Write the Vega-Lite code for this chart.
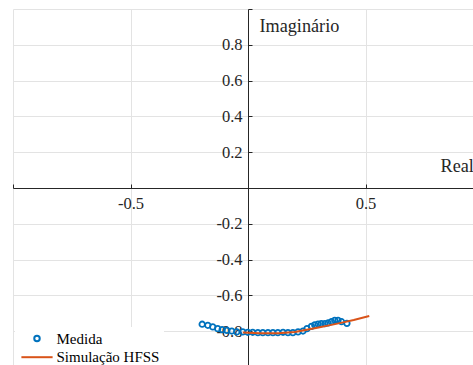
{
  "$schema": "https://vega.github.io/schema/vega-lite/v6.json",
  "width": 470,
  "height": 358,
  "autosize": {"type": "none"},
  "padding": {"left": 13, "top": 9, "right": 0, "bottom": 0},
  "background": "white",
  "config": {"view": {"stroke": null}, "font": "Liberation Serif"},
  "datasets": {
    "s11": [
      {"serie": "Medida", "re": -0.195, "im": -0.761},
      {"serie": "Medida", "re": -0.171, "im": -0.767},
      {"serie": "Medida", "re": -0.150, "im": -0.776},
      {"serie": "Medida", "re": -0.129, "im": -0.786},
      {"serie": "Medida", "re": -0.110, "im": -0.791},
      {"serie": "Medida", "re": -0.090, "im": -0.795},
      {"serie": "Medida", "re": -0.069, "im": -0.799},
      {"serie": "Medida", "re": -0.048, "im": -0.804},
      {"serie": "Medida", "re": -0.022, "im": -0.804},
      {"serie": "Medida", "re": -0.001, "im": -0.806},
      {"serie": "Medida", "re": 0.020, "im": -0.806},
      {"serie": "Medida", "re": 0.042, "im": -0.808},
      {"serie": "Medida", "re": 0.063, "im": -0.808},
      {"serie": "Medida", "re": 0.085, "im": -0.808},
      {"serie": "Medida", "re": 0.106, "im": -0.808},
      {"serie": "Medida", "re": 0.127, "im": -0.808},
      {"serie": "Medida", "re": 0.149, "im": -0.806},
      {"serie": "Medida", "re": 0.170, "im": -0.808},
      {"serie": "Medida", "re": 0.191, "im": -0.808},
      {"serie": "Medida", "re": 0.213, "im": -0.804},
      {"serie": "Medida", "re": 0.234, "im": -0.799},
      {"serie": "Medida", "re": 0.251, "im": -0.786},
      {"serie": "Medida", "re": 0.270, "im": -0.773},
      {"serie": "Medida", "re": 0.284, "im": -0.765},
      {"serie": "Medida", "re": 0.298, "im": -0.760},
      {"serie": "Medida", "re": 0.312, "im": -0.758},
      {"serie": "Medida", "re": 0.327, "im": -0.758},
      {"serie": "Medida", "re": 0.341, "im": -0.754},
      {"serie": "Medida", "re": 0.355, "im": -0.747},
      {"serie": "Medida", "re": 0.369, "im": -0.739},
      {"serie": "Medida", "re": 0.383, "im": -0.739},
      {"serie": "Medida", "re": 0.398, "im": -0.747},
      {"serie": "Medida", "re": 0.421, "im": -0.756},
      {"serie": "Simulação HFSS", "re": -0.022, "im": -0.807},
      {"serie": "Simulação HFSS", "re": 0.05, "im": -0.811},
      {"serie": "Simulação HFSS", "re": 0.13, "im": -0.812},
      {"serie": "Simulação HFSS", "re": 0.2, "im": -0.805},
      {"serie": "Simulação HFSS", "re": 0.25, "im": -0.792},
      {"serie": "Simulação HFSS", "re": 0.3, "im": -0.779},
      {"serie": "Simulação HFSS", "re": 0.35, "im": -0.766},
      {"serie": "Simulação HFSS", "re": 0.4, "im": -0.752},
      {"serie": "Simulação HFSS", "re": 0.45, "im": -0.737},
      {"serie": "Simulação HFSS", "re": 0.516, "im": -0.715}
    ]
  },
  "data": {"name": "s11"},
  "encoding": {
    "x": {
      "field": "re", "type": "quantitative",
      "scale": {"domain": [-1, 1], "nice": false, "zero": false},
      "axis": {
        "values": [-1, -0.5, 0, 0.5, 1],
        "offset": -179,
        "grid": true, "gridColor": "#e3e3e3", "gridWidth": 1,
        "domainColor": "#262626", "domainWidth": 1,
        "tickColor": "#262626", "tickSize": -4, "tickWidth": 1,
        "labelExpr": "datum.value == 0 || abs(datum.value) == 1 ? '' : (datum.value < 0 ? '-' : '') + format(abs(datum.value), '.1f')",
        "labelFont": "Liberation Serif", "labelFontSize": 16.5, "labelColor": "#262626",
        "labelPadding": 11, "labelFlush": false, "labelOverlap": false,
        "title": "Real", "titleFont": "Liberation Serif", "titleFontSize": 18.2, "titleFontWeight": "normal",
        "titleColor": "#262626", "titleX": 427, "titleY": -22, "titleAlign": "left", "titleBaseline": "middle"
      }
    },
    "y": {
      "field": "im", "type": "quantitative",
      "scale": {"domain": [-1, 1], "nice": false, "zero": false},
      "axis": {
        "values": [-1, -0.8, -0.6, -0.4, -0.2, 0, 0.2, 0.4, 0.6, 0.8, 1],
        "offset": -235,
        "grid": true, "gridColor": "#e3e3e3", "gridWidth": 1,
        "domainColor": "#262626", "domainWidth": 1,
        "tickColor": "#262626", "tickSize": -4, "tickWidth": 1,
        "labelExpr": "datum.value == 0 || abs(datum.value) == 1 ? '' : (datum.value < 0 ? '-' : '') + format(abs(datum.value), '.1f')",
        "labelFont": "Liberation Serif", "labelFontSize": 16.5, "labelColor": "#262626",
        "labelPadding": 10, "labelFlush": false, "labelOverlap": false,
        "title": "Imaginário", "titleFont": "Liberation Serif", "titleFontSize": 18.2, "titleFontWeight": "normal",
        "titleColor": "#262626", "titleAngle": 0, "titleX": 11, "titleY": 17, "titleAlign": "left", "titleBaseline": "middle"
      }
    },
    "color": {
      "field": "serie", "type": "nominal",
      "scale": {"domain": ["Medida", "Simulação HFSS"], "range": ["#0072BD", "#D95319"]},
      "legend": {
        "title": null, "orient": "none", "legendX": 2, "legendY": 318,
        "fillColor": "white", "strokeColor": null, "padding": 4,
        "symbolOffset": 10.5, "labelOffset": 12, "rowPadding": 2.7,
        "symbolSize": 30, "symbolStrokeWidth": 2,
        "labelFont": "Liberation Serif", "labelFontSize": 15, "labelColor": "#000000"
      }
    }
  },
  "layer": [
    {
      "transform": [{"filter": "datum.serie == 'Medida'"}],
      "mark": {"type": "point", "filled": false, "size": 30, "strokeWidth": 1.8, "opacity": 1},
      "encoding": {
        "shape": {
          "field": "serie", "type": "nominal",
          "scale": {"domain": ["Medida", "Simulação HFSS"], "range": ["circle", "M-5.7,0H5.7"]}
        }
      }
    },
    {
      "transform": [{"filter": "datum.serie == 'Simulação HFSS'"}],
      "mark": {"type": "line", "strokeWidth": 2}
    }
  ]
}
